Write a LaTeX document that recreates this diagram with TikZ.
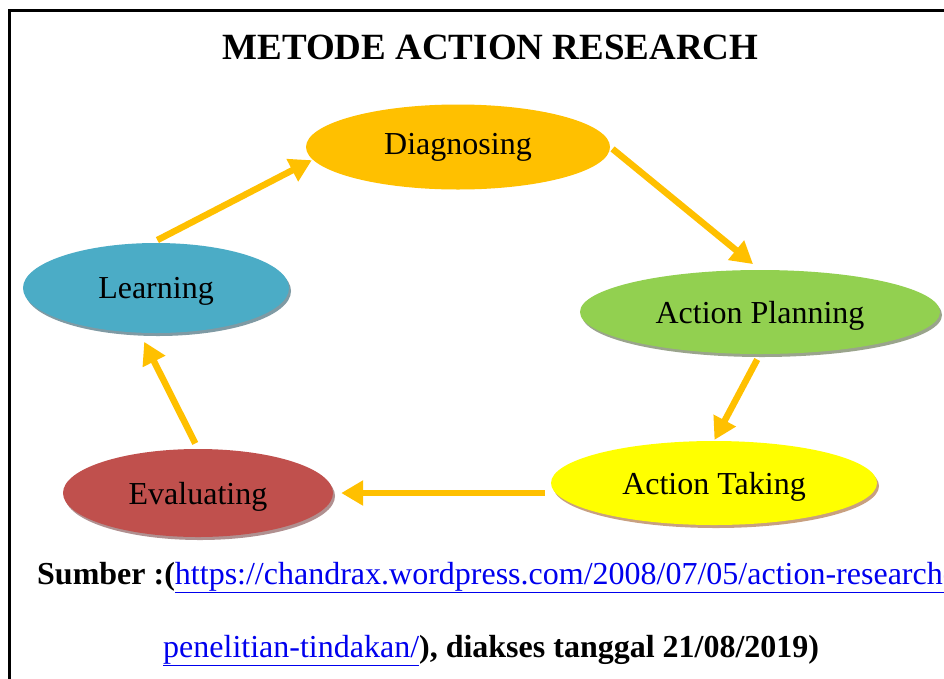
\documentclass[tikz,border=0pt]{standalone}
\usepackage{fontspec}
\setmainfont{Liberation Serif}
\usetikzlibrary{shapes.geometric,arrows.meta,shadows}
\definecolor{cOrange}{HTML}{FFC000}
\definecolor{cGreen}{HTML}{92D050}
\definecolor{cBlue}{HTML}{4BACC6}
\definecolor{cYellow}{HTML}{FFFF00}
\definecolor{cRed}{HTML}{C0504D}
\definecolor{shGreen}{HTML}{9AA48C}
\definecolor{shBlue}{HTML}{7F9AA4}
\definecolor{shYellow}{HTML}{C8A080}
\definecolor{shRed}{HTML}{B09090}
\definecolor{linkblue}{HTML}{0000EE}
\begin{document}
\begin{tikzpicture}[x=1pt,y=-1pt,
  lbl/.style={font=\fontsize{32}{36}\selectfont},
  stage/.style={ellipse,inner sep=0pt,lbl,text=black},
  shad/.style={text depth=0pt,drop shadow={shadow xshift=2pt,shadow yshift=-3pt,fill=#1,opacity=1}},
  flow/.style={draw=cOrange,line width=6.5pt,-{Triangle[length=22pt,width=24pt]}}]
\useasboundingbox (0,0) rectangle (944,678);
\clip (0,0) rectangle (944,678);
\fill[white] (0,0) rectangle (944,678);
\draw[line width=3pt] (9,680) -- (9,10) -- (946,10);

\node[anchor=base,font=\fontsize{37}{42}\selectfont\bfseries] (title) at (490.5,59) {METODE ACTION RESEARCH};

\node[stage,fill=cOrange,minimum width=304pt,minimum height=85pt] (diag) at (458,147) {Diagnosing};
\node[stage,fill=cGreen,shad=shGreen,minimum width=360pt,minimum height=84pt] (ap) at (760,312) {Action Planning};
\node[stage,fill=cBlue,shad=shBlue,minimum width=266pt,minimum height=90pt] (learn) at (156,288) {Learning};
\node[stage,fill=cYellow,shad=shYellow,minimum width=326pt,minimum height=84pt] (at) at (714,483) {Action Taking};
\node[stage,fill=cRed,shad=shRed,minimum width=270pt,minimum height=88pt] (ev) at (198,493) {Evaluating};

\draw[flow,shorten <=6pt,shorten >=1pt] (learn.95) -- (diag.185);
\draw[flow,shorten <=3pt,shorten >=9pt] (diag.east) -- (ap.north);
\draw[flow,shorten <=6pt,shorten >=1pt] (ap.south) -- (at.north);
\draw[flow,shorten <=6pt,shorten >=8pt] (ev.east -| at.west) -- (ev.east);
\draw[flow,shorten <=6pt,shorten >=10pt] (ev.north) -- (learn.250);

\node[anchor=base west,lbl,inner sep=0pt] (src1) at (37,584) {\textbf{Sumber :(}\textcolor{linkblue}{\underline{https://chandrax.wordpress.com/2008/07/05/action-research-}}};
\node[anchor=base west,lbl,inner sep=0pt] (src2) at (163,657) {\textcolor{linkblue}{\underline{penelitian-tindakan/}}\textbf{), diakses tanggal 21/08/2019)}};
\end{tikzpicture}
\end{document}
